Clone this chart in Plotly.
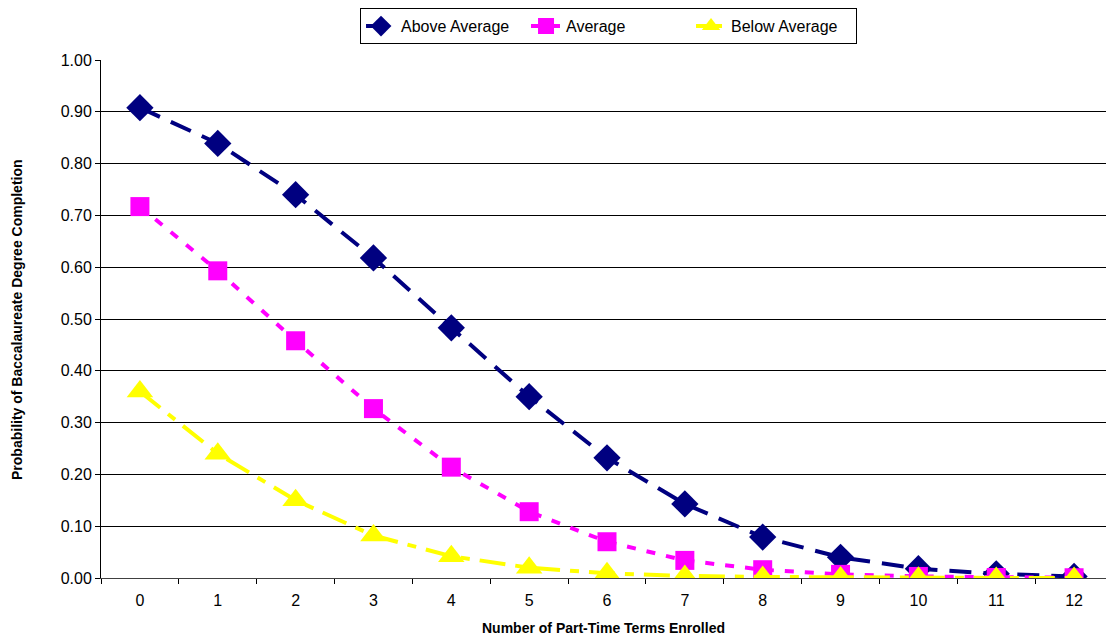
import plotly.graph_objects as go

terms = list(range(13))
tick_labels = [str(t) for t in terms]
above_avg = [0.908, 0.839, 0.740, 0.618, 0.483, 0.350, 0.232, 0.143, 0.079, 0.040, 0.018, 0.008, 0.003]
average = [0.717, 0.593, 0.458, 0.327, 0.214, 0.128, 0.070, 0.034, 0.016, 0.007, 0.003, 0.001, 0.0005]
below_avg = [0.360, 0.240, 0.150, 0.082, 0.042, 0.020, 0.009, 0.004, 0.002, 0.001, 0.0005, 0.0002, 0.0001]

fig = go.Figure()
fig.add_trace(go.Scatter(x=terms, y=above_avg, name="Above Average", mode="lines+markers",
                         line=dict(color="#000080", width=4, dash="22px,12px"),
                         marker=dict(symbol="diamond", size=21, color="#000080")))
fig.add_trace(go.Scatter(x=terms, y=average, name="Average", mode="lines+markers",
                         line=dict(color="#FF00FF", width=4, dash="9px,11px"),
                         marker=dict(symbol="square", size=19, color="#FF00FF")))
fig.add_trace(go.Scatter(x=terms, y=below_avg, name="Below Average", mode="lines+markers",
                         line=dict(color="#FFFF00", width=4, dash="26px,10px,9px,10px"),
                         marker=dict(symbol="triangle-up", size=23, color="#FFFF00")))

fig.update_layout(
    width=1106, height=643,
    margin=dict(l=101, r=0, t=60, b=65),
    paper_bgcolor="white", plot_bgcolor="white",
    font=dict(family="Arial, Liberation Sans, sans-serif", size=16, color="black"),
    showlegend=True,
    legend=dict(orientation="h", x=0.505, xanchor="center", y=1.10, yanchor="top",
                bordercolor="black", borderwidth=1, bgcolor="white",
                font=dict(size=16), tracegroupgap=0,
                entrywidth=120, entrywidthmode="pixels"),
    xaxis=dict(range=[-0.5, 12.41], tickmode="array", tickvals=terms, ticktext=tick_labels,
               ticks="", showgrid=False, zeroline=False, showline=True, linecolor="#404040",
               linewidth=1, ticklabelstandoff=8,
               minor=dict(tickvals=[t + 0.5 for t in range(-1, 13)], ticks="outside",
                          ticklen=5, tickcolor="black", showgrid=False),
               title=dict(text="<b>Number of Part-Time Terms Enrolled</b>", font=dict(size=14), standoff=14)),
    yaxis=dict(range=[0, 1.0], tickmode="array", tickvals=[i / 10 for i in range(11)],
               tickformat=".2f", ticks="outside", ticklen=5, tickcolor="black",
               showgrid=True, gridcolor="black", gridwidth=1, zeroline=False,
               showline=True, linecolor="black", linewidth=1),
)
fig.add_annotation(text="<b>Probability of Baccalaureate Degree Completion</b>",
                   xref="paper", yref="paper", x=-0.0836, y=0.5, textangle=-90,
                   showarrow=False, font=dict(size=14), xanchor="center", yanchor="middle")

fig.write_html("out.html")
